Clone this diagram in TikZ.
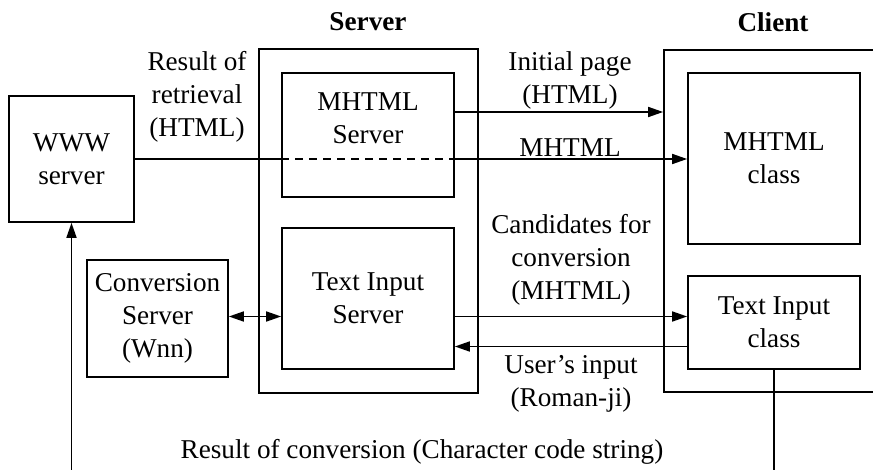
\documentclass[tikz,border=0pt]{standalone}
\usepackage{fontspec}
\setmainfont{Liberation Serif}
\usetikzlibrary{arrows.meta}

\begin{document}
\begin{tikzpicture}[x=1pt, y=-1pt,
		box/.style = {draw, line width=1.7pt, inner sep=0pt, align=center},
		txt/.style = {inner sep=0pt, align=center},
		arr/.style = {line width=1.7pt, -{Triangle[length=15pt,width=10pt]}},
		every node/.style = {font=\fontsize{27.2}{33}\selectfont}]
		\newcommand{\innerWidth}{172}
		\newcommand{\bottomLine}{470.8}
		
		\useasboundingbox (0,0) rectangle (873,470);		% frame
		
		% outer boxes
		\node[box, minimum width=219, minimum height=344] (server) at (368.5,221) {};
		\node[box, minimum width=216, minimum height=342] (client) at (772,221) {};
		\node[txt, font=\fontsize{27.2}{33}\selectfont\bfseries] (serverlbl) at (368,22) {Server};
		\node[txt, font=\fontsize{27.2}{33}\selectfont\bfseries] (clientlbl) at (773,22) {Client};
		
		% boxes
		\node[box, minimum width=125, minimum height=126] (www) at (71.5,159) {WWW\\server};
		\node[box, minimum width=\innerWidth, minimum height=124] (mserv) at (368,135) {MHTML\\Server\\\mbox{}};
		\node[box, minimum width=\innerWidth, minimum height=141] (tiserv) at (368,298.5) {Text Input\\Server};
		\node[box, minimum width=141, minimum height=117] (conv) at (157.5,318.5) {Conversion\\Server\\(Wnn)};
		\node[box, minimum width=\innerWidth, minimum height=171] (mclass) at (774,158.5) {MHTML\\class};
		\node[box, minimum width=\innerWidth, minimum height=93] (ticlass) at (774,322.5) {Text Input\\class};
		
		% connectors
		\draw[line width=1.7pt] (www.east) -- (www.east -| mserv.west);
		\draw[line width=1.7pt, dash pattern=on 8pt off 6pt] (www.east -| mserv.west) -- (www.east -| mserv.east);
		\draw[arr] (www.east -| mserv.east) -- (www.east -| mclass.west);
		\draw[arr] ([yshift=23pt]mserv.east) -- ([yshift=23pt]mserv.east -| client.west);
		\draw[arr] ([yshift=6pt]ticlass.west -| tiserv.east) -- ([yshift=6pt]ticlass.west);
		\draw[arr] ([yshift=-24pt]ticlass.west) -- ([yshift=-24pt]ticlass.west -| tiserv.east);
		\draw[line width=1.7pt, {Triangle[length=15pt,width=10pt]}-{Triangle[length=15pt,width=10pt]}] ([yshift=2pt]conv.east) -- ([yshift=2pt]conv.east -| tiserv.west);
		\coordinate (loop) at (0,\bottomLine);
		\draw[arr] (ticlass.south) -- (ticlass.south |- loop) -- (www.south |- loop) -- (www.south);
		
		% labels
		\node[txt] (retrlbl) at (197,97) {Result of\\retrieval\\(HTML)};
		\node[txt] (initlbl) at (570,80) {Initial page\\(HTML)};
		\node[txt] (mhtmllbl) at (570,148) {MHTML};
		\node[txt] (candlbl) at (571,260) {Candidates for\\conversion\\(MHTML)};
		\node[txt] (userlbl) at (571,383.5) {User’s input\\(Roman-ji)};
		\node[txt] (resultlbl) at (422,452) {Result of conversion (Character code string)};
\end{tikzpicture}
\end{document}
